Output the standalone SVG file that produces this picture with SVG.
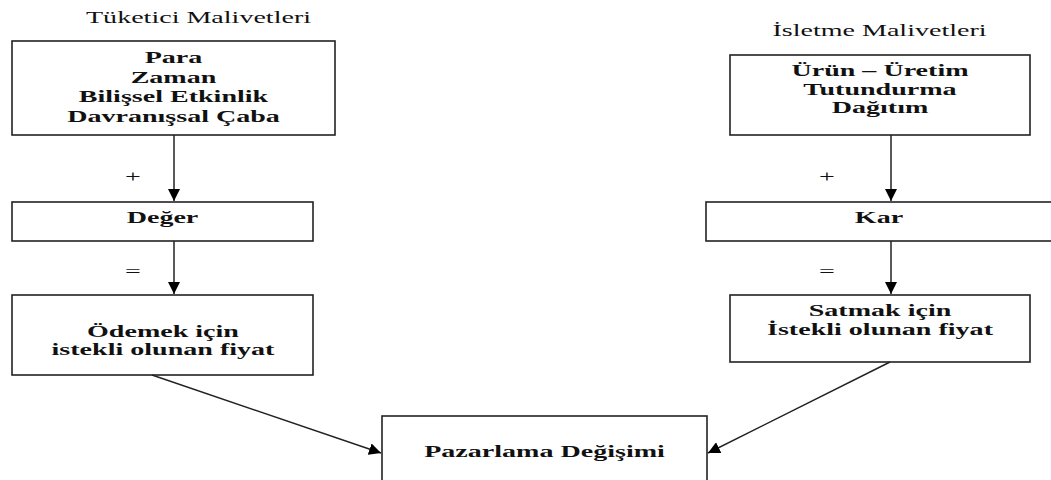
<svg xmlns="http://www.w3.org/2000/svg" width="1051" height="480" viewBox="0 0 1051 480">
<defs>
<style>
.box{fill:#fff;stroke:#222;stroke-width:1.6}
.t{font-family:"Liberation Serif","Times New Roman",serif;font-size:17px;fill:#111;text-anchor:middle}
.b{font-weight:bold}
.ln{stroke:#222;stroke-width:1.5;fill:none}
</style>
<marker id="ah" viewBox="0 0 10 10" refX="10" refY="5" markerWidth="12" markerHeight="12" markerUnits="userSpaceOnUse" orient="auto">
<path d="M0,0 L10,5 L0,10 Z" fill="#000"/>
</marker>
</defs>
<rect width="1051" height="480" fill="#fff"/>
<g id="title-left"><text class="t" transform="translate(198.5,23) scale(1.65,1)">Tüketici Malivetleri</text></g>
<g id="title-right"><text class="t" transform="translate(879.5,36) scale(1.65,1)">İsletme Malivetleri</text></g>
<g id="consumer-costs">
<rect class="box" x="12" y="41" width="323" height="94"/>
<text class="t b" transform="translate(173.5,63) scale(1.65,1)">Para</text>
<text class="t b" transform="translate(173.5,83) scale(1.65,1)">Zaman</text>
<text class="t b" transform="translate(173.5,102) scale(1.65,1)">Bilişsel Etkinlik</text>
<text class="t b" transform="translate(173.5,122) scale(1.65,1)">Davranışsal Çaba</text>
</g>
<g id="business-costs">
<rect class="box" x="730" y="55" width="300" height="80"/>
<text class="t b" transform="translate(880,76) scale(1.65,1)">Ürün – Üretim</text>
<text class="t b" transform="translate(880,95) scale(1.65,1)">Tutundurma</text>
<text class="t b" transform="translate(880,113) scale(1.65,1)">Dağıtım</text>
</g>
<g id="deger">
<rect class="box" x="12" y="202" width="301" height="39"/>
<text class="t b" transform="translate(162.5,223) scale(1.65,1)">Değer</text>
</g>
<g id="kar">
<rect class="box" x="706" y="202" width="360" height="39"/>
<text class="t b" transform="translate(879,223) scale(1.65,1)">Kar</text>
</g>
<g id="odemek">
<rect class="box" x="12" y="295" width="301" height="80"/>
<text class="t b" transform="translate(163,337) scale(1.65,1)">Ödemek için</text>
<text class="t b" transform="translate(163,355) scale(1.65,1)">istekli olunan fiyat</text>
</g>
<g id="satmak">
<rect class="box" x="730" y="295" width="300" height="67"/>
<text class="t b" transform="translate(880,316) scale(1.65,1)">Satmak için</text>
<text class="t b" transform="translate(880,335) scale(1.65,1)">İstekli olunan fiyat</text>
</g>
<g id="pazarlama">
<rect class="box" x="382" y="416" width="325" height="80"/>
<text class="t b" transform="translate(544.5,457) scale(1.65,1)">Pazarlama Değişimi</text>
</g>
<g id="connectors">
<line class="ln" x1="174" y1="135" x2="174" y2="201" marker-end="url(#ah)"/>
<line class="ln" x1="174" y1="241" x2="174" y2="294" marker-end="url(#ah)"/>
<line class="ln" x1="891" y1="135" x2="891" y2="201" marker-end="url(#ah)"/>
<line class="ln" x1="891" y1="241" x2="891" y2="294" marker-end="url(#ah)"/>
<line class="ln" x1="152" y1="375" x2="381" y2="453" marker-end="url(#ah)"/>
<line class="ln" x1="890" y1="362" x2="708" y2="453" marker-end="url(#ah)"/>
<text class="t" transform="translate(133,182) scale(1.65,1)">+</text>
<text class="t" transform="translate(133,277) scale(1.65,1)">=</text>
<text class="t" transform="translate(827,182) scale(1.65,1)">+</text>
<text class="t" transform="translate(827,277) scale(1.65,1)">=</text>
</g>
</svg>
